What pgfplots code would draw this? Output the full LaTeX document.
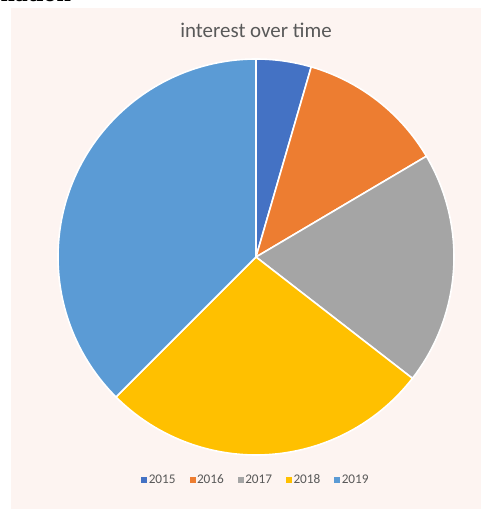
\documentclass[border=0pt]{standalone}
\usepackage{pgfplots}
\pgfplotsset{compat=1.18}
\usepackage{pgfplotstable}
\usepackage{fontspec}
\setmainfont{Carlito}
\newfontfamily\serifbold{Liberation Serif}
\definecolor{bgp}{HTML}{FDF4F1}
\definecolor{txt}{HTML}{595959}
\definecolor{cA}{HTML}{4472C4}
\definecolor{cB}{HTML}{ED7D31}
\definecolor{cC}{HTML}{A5A5A5}
\definecolor{cD}{HTML}{FFC000}
\definecolor{cE}{HTML}{5B9BD5}
\pgfplotstableread{
year share
2015 4.5
2016 12.0
2017 19.0
2018 27.0
2019 37.5
}\piedata
\begin{document}
\begin{tikzpicture}
\fill[white] (0bp,0bp) rectangle (481bp,509bp);
\fill[bgp] (11bp,0bp) rectangle (481bp,501bp);
\begin{scope}
\clip (0bp,505.5bp) rectangle (120bp,509bp);
\node[anchor=base west, inner sep=0, font=\fontsize{26}{26}\selectfont\serifbold\bfseries] at (-40bp,507bp) {formation};
\end{scope}
% cumulative angles (start at 12 o'clock, clockwise)
\pgfplotstablegetelem{0}{share}\of\piedata \let\sA\pgfplotsretval
\pgfplotstablegetelem{1}{share}\of\piedata \let\sB\pgfplotsretval
\pgfplotstablegetelem{2}{share}\of\piedata \let\sC\pgfplotsretval
\pgfplotstablegetelem{3}{share}\of\piedata \let\sD\pgfplotsretval
\pgfplotstablegetelem{4}{share}\of\piedata \let\sE\pgfplotsretval
\pgfmathsetmacro\aA{90}
\pgfmathsetmacro\aB{\aA-3.6*\sA}
\pgfmathsetmacro\aC{\aB-3.6*\sB}
\pgfmathsetmacro\aD{\aC-3.6*\sC}
\pgfmathsetmacro\aE{\aD-3.6*\sD}
\pgfmathsetmacro\aF{\aE-3.6*\sE}
\begin{axis}[
  at={(256bp,252bp)}, anchor=center,
  width=396bp, height=396bp, scale only axis,
  xmin=-1, xmax=1, ymin=-1, ymax=1,
  hide axis, clip=false,
  title={interest over time},
  title style={at={(0.5,1.058)}, anchor=center, font=\fontsize{21}{24}\selectfont, text=txt},
  legend style={at={(0.5,-0.063)}, anchor=center, draw=none, fill=none,
    legend columns=-1, font=\fontsize{13.3}{16}\selectfont, text=txt,
    /tikz/every even column/.append style={column sep=12bp}},
]
\fill[cA, draw=white, line width=1.6bp] (axis cs:0,0) -- (axis cs:{cos(\aA)},{sin(\aA)}) arc[start angle=\aA, end angle=\aB, radius=198bp] -- cycle;
\fill[cB, draw=white, line width=1.6bp] (axis cs:0,0) -- (axis cs:{cos(\aB)},{sin(\aB)}) arc[start angle=\aB, end angle=\aC, radius=198bp] -- cycle;
\fill[cC, draw=white, line width=1.6bp] (axis cs:0,0) -- (axis cs:{cos(\aC)},{sin(\aC)}) arc[start angle=\aC, end angle=\aD, radius=198bp] -- cycle;
\fill[cD, draw=white, line width=1.6bp] (axis cs:0,0) -- (axis cs:{cos(\aD)},{sin(\aD)}) arc[start angle=\aD, end angle=\aE, radius=198bp] -- cycle;
\fill[cE, draw=white, line width=1.6bp] (axis cs:0,0) -- (axis cs:{cos(\aE)},{sin(\aE)}) arc[start angle=\aE, end angle=\aF, radius=198bp] -- cycle;
\addlegendimage{legend image code/.code={\fill[cA] (0bp,-2.5bp) rectangle (5bp,2.5bp);}}
\addlegendentry{2015}
\addlegendimage{legend image code/.code={\fill[cB] (0bp,-2.5bp) rectangle (5bp,2.5bp);}}
\addlegendentry{2016}
\addlegendimage{legend image code/.code={\fill[cC] (0bp,-2.5bp) rectangle (5bp,2.5bp);}}
\addlegendentry{2017}
\addlegendimage{legend image code/.code={\fill[cD] (0bp,-2.5bp) rectangle (5bp,2.5bp);}}
\addlegendentry{2018}
\addlegendimage{legend image code/.code={\fill[cE] (0bp,-2.5bp) rectangle (5bp,2.5bp);}}
\addlegendentry{2019}
\end{axis}
\pgfresetboundingbox
\useasboundingbox (0bp,0bp) rectangle (481bp,509bp);
\end{tikzpicture}
\end{document}
